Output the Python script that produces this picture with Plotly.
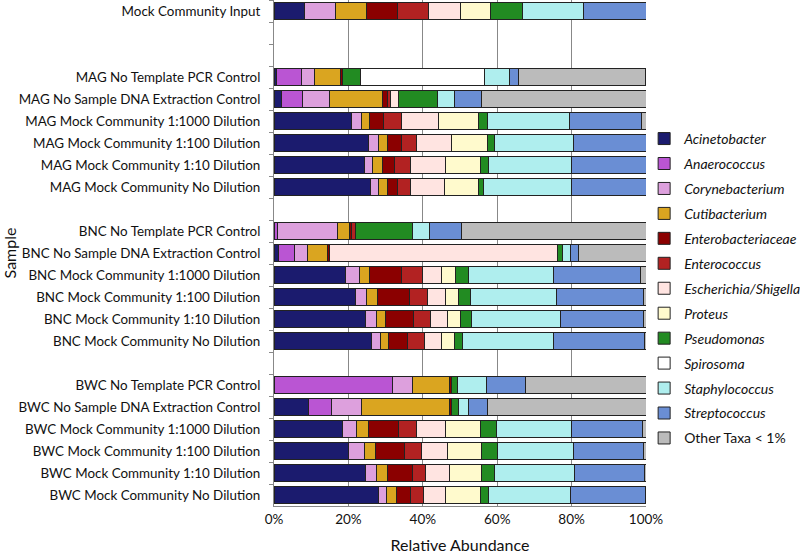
import plotly.graph_objects as go

samples = [
    "Mock Community Input",
    "MAG No Template PCR Control",
    "MAG No Sample DNA Extraction Control",
    "MAG Mock Community 1:1000 Dilution",
    "MAG Mock Community 1:100 Dilution",
    "MAG Mock Community 1:10 Dilution",
    "MAG Mock Community No Dilution",
    "BNC No Template PCR Control",
    "BNC No Sample DNA Extraction Control",
    "BNC Mock Community 1:1000 Dilution",
    "BNC Mock Community 1:100 Dilution",
    "BNC Mock Community 1:10 Dilution",
    "BNC Mock Community No Dilution",
    "BWC No Template PCR Control",
    "BWC No Sample DNA Extraction Control",
    "BWC Mock Community 1:1000 Dilution",
    "BWC Mock Community 1:100 Dilution",
    "BWC Mock Community 1:10 Dilution",
    "BWC Mock Community No Dilution",
]

# display order (top to bottom) with blank spacer rows
category_order = [
    samples[0], " ", "  ",
    *samples[1:7], "   ",
    *samples[7:13], "    ",
    *samples[13:19],
]

taxa = ["Acinetobacter", "Anaerococcus", "Corynebacterium", "Cutibacterium",
        "Enterobacteriaceae", "Enterococcus", "Escherichia/Shigella", "Proteus",
        "Pseudomonas", "Spirosoma", "Staphylococcus", "Streptococcus",
        "Other Taxa < 1%"]

acinetobacter = [8.3, 0.6, 2.0, 20.9, 25.5, 24.2, 26.0, 0, 1.2, 19.1, 21.8, 24.7, 26.2, 0, 9.3, 18.4, 20.0, 24.5, 28.0]
anaerococcus = [0, 6.7, 5.7, 0, 0, 0, 0, 0.9, 4.3, 0, 0, 0, 0, 31.9, 6.2, 0, 0, 0, 0]
corynebacterium = [8.3, 3.6, 7.1, 2.6, 2.5, 2.2, 2.1, 16.2, 3.5, 4.0, 3.1, 2.9, 2.4, 5.2, 8.1, 3.9, 4.2, 3.0, 2.3]
cutibacterium = [8.3, 7.1, 14.4, 2.2, 2.6, 2.8, 2.5, 3.1, 5.4, 2.5, 3.0, 2.5, 2.2, 10.2, 23.6, 3.2, 3.0, 3.1, 2.7]
enterobacteriaceae = [8.4, 0.4, 1.4, 3.7, 3.6, 3.3, 2.7, 0.6, 0.4, 8.8, 8.5, 7.5, 5.2, 0.3, 0.5, 8.0, 7.9, 6.5, 3.8]
enterococcus = [8.3, 0, 0.6, 4.8, 4.0, 4.1, 3.3, 1.0, 0, 5.4, 4.8, 4.4, 4.4, 0, 0, 4.7, 4.5, 3.6, 3.3]
escherichia = [8.4, 0, 2.2, 10.1, 9.5, 9.5, 9.2, 0, 61.3, 5.1, 4.9, 4.7, 4.5, 0, 0, 7.8, 7.1, 6.6, 6.0]
proteus = [8.3, 0, 0, 10.8, 9.6, 9.4, 9.1, 0, 0, 4.0, 3.4, 3.5, 3.6, 0, 0, 9.6, 9.1, 8.6, 9.3]
pseudomonas = [8.4, 4.9, 10.6, 2.2, 1.9, 2.1, 1.4, 15.3, 1.4, 3.5, 3.4, 3.0, 2.3, 1.6, 2.0, 4.2, 4.3, 3.4, 2.2]
spirosoma = [0, 33.4, 0, 0, 0, 0, 0, 0, 0, 0, 0, 0, 0, 0, 0, 0, 0, 0, 0]
staphylococcus = [16.5, 6.6, 4.6, 22.1, 21.2, 22.4, 23.6, 4.7, 2.2, 22.7, 23.1, 23.8, 24.3, 7.9, 2.7, 20.1, 20.3, 21.4, 22.0]
streptococcus = [16.8, 2.4, 7.3, 19.4, 19.6, 20.0, 20.1, 8.5, 2.1, 23.5, 23.3, 22.3, 24.4, 10.5, 5.1, 19.2, 18.8, 18.8, 20.2]
other = [0, 34.2, 44.1, 1.2, 0, 0, 0, 49.7, 18.2, 1.4, 0.7, 0.7, 0.5, 32.4, 42.5, 0.9, 0.8, 0.5, 0.2]

series = [acinetobacter, anaerococcus, corynebacterium, cutibacterium,
          enterobacteriaceae, enterococcus, escherichia, proteus,
          pseudomonas, spirosoma, staphylococcus, streptococcus, other]

colors = ["#1B1B6E", "#BA55D3", "#DDA0DD", "#DAA520", "#8B0000", "#B22222",
          "#FFE4E1", "#FFFACD", "#228B22", "#FFFFFF", "#AFEEEE", "#6A8ED4",
          "#BBBBBB"]

fig = go.Figure()
for i, (name, vals, col) in enumerate(zip(taxa, series, colors)):
    label = name.replace("<", "&lt;") if name.startswith("Other") else f"<i>{name}</i>"
    fig.add_trace(go.Bar(
        y=samples,
        x=[v if v > 0 else None for v in vals],
        name=label,
        orientation="h",
        marker=dict(color=col, line=dict(color="#222222", width=1)),
        legendgroup=f"g{i}",
        hovertemplate=name + ": %{x:.1f}%<extra>%{y}</extra>",
    ))

font_family = "Lato, 'Liberation Sans', Arial, sans-serif"

fig.update_layout(
    barmode="stack",
    bargap=0.22,
    width=800, height=554,
    margin=dict(l=274, r=154, t=0, b=48, autoexpand=False),
    plot_bgcolor="white",
    paper_bgcolor="white",
    font=dict(family=font_family, size=13, color="#111111"),
    legend=dict(
        x=0.995, xanchor="left", y=0.757, yanchor="top",
        font=dict(size=14, color="#111111"),
        itemwidth=30,
        tracegroupgap=3.75,
        bgcolor="rgba(0,0,0,0)",
    ),
    showlegend=True,
)

fig.update_xaxes(
    range=[0, 100],
    tickvals=[0, 20, 40, 60, 80, 100],
    ticktext=["0%", "20%", "40%", "60%", "80%", "100%"],
    showgrid=True, gridcolor="#888888", gridwidth=1,
    showline=True, linecolor="#888888", linewidth=1,
    zeroline=False, automargin=False,
    ticks="", tickfont=dict(size=13.5), ticklabelstandoff=1,
    title=dict(text="Relative Abundance", font=dict(size=16), standoff=16),
)

fig.update_yaxes(
    type="category",
    categoryorder="array",
    categoryarray=category_order,
    autorange="reversed",
    automargin=False,
    showline=True, linecolor="#888888", linewidth=1,
    ticks="outside", tickson="boundaries", ticklen=4, tickcolor="#888888",
    ticklabelstandoff=10,
    showgrid=False,
    tickfont=dict(size=13.4),
    title=dict(text="Sample", font=dict(size=16), standoff=2),
)

fig.write_html("out.html", config={"displayModeBar": False},
               post_script="document.body.style.margin='0';")
